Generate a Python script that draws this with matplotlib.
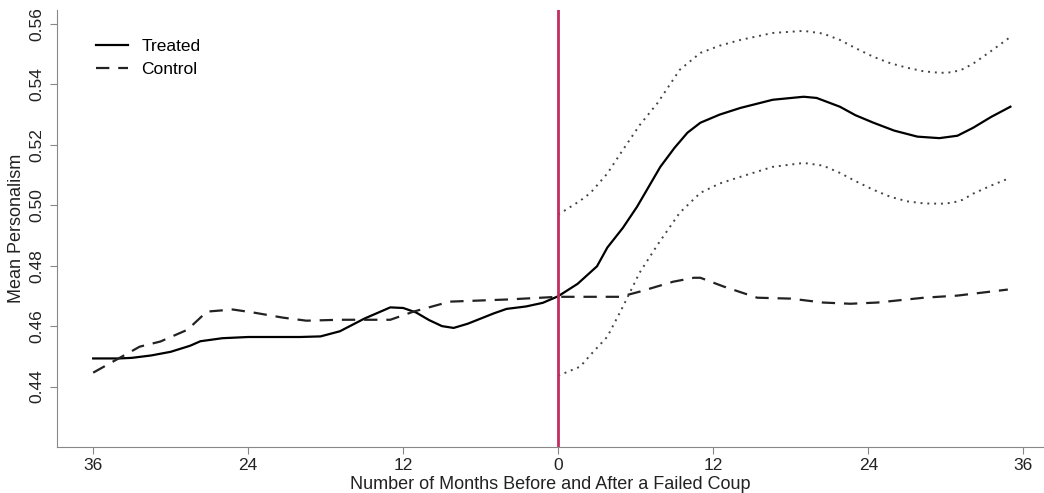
import matplotlib
matplotlib.use("Agg")
import matplotlib.pyplot as plt

plt.rcParams['font.family'] = ['Liberation Sans', 'DejaVu Sans']

# months relative to the failed coup (negative = before)
treated_x = [-36, -34, -33, -31.5, -30, -28.5, -27.7, -26, -24, -20, -18.4, -16.9, -15, -13,
             -12, -11, -10, -9, -8.1, -7, -6, -5, -4, -2.5, -1.2, 0, 1.5, 3, 3.8, 5, 6.1,
             7.9, 9, 10, 11, 12.5, 14.1, 16.6, 19, 20, 21.8, 23, 24.4, 26, 27.8, 29.5,
             30.9, 32.1, 33.5, 35]
treated_y = [0.4493, 0.4493, 0.4495, 0.4503, 0.4515, 0.4535, 0.4550, 0.4560, 0.4564, 0.4564,
             0.4566, 0.4583, 0.4625, 0.4662, 0.4660, 0.4645, 0.4620, 0.4600, 0.4594, 0.4608,
             0.4625, 0.4642, 0.4657, 0.4665, 0.4677, 0.4699, 0.4740, 0.4798, 0.4860, 0.4925,
             0.4995, 0.5127, 0.5190, 0.5240, 0.5273, 0.5300, 0.5322, 0.5349, 0.5359, 0.5355,
             0.5326, 0.5298, 0.5273, 0.5247, 0.5227, 0.5222, 0.5230, 0.5256, 0.5292, 0.5326]

control_x = [-36, -34.2, -32.4, -30.8, -28.7, -27.2, -25.2, -23.6, -21.3, -19.5, -16.9, -13,
             -11.2, -8.4, -4, 0, 4.8, 6.3, 8.9, 10.5, 11, 12.8, 15.4, 18, 20.5, 22.6, 24.7,
             28.3, 30.9, 34.8]
control_y = [0.4446, 0.4489, 0.4532, 0.4549, 0.4588, 0.4648, 0.4655, 0.4645, 0.4628, 0.4618,
             0.4621, 0.4621, 0.4648, 0.4681, 0.4688, 0.4697, 0.4697, 0.4714, 0.4747, 0.4760,
             0.4760, 0.4731, 0.4694, 0.4691, 0.4678, 0.4674, 0.4678, 0.4694, 0.4701, 0.4721]

ci_x = [0, 1.7, 2.5, 3.8, 5.0, 6.3, 7.7, 9.4, 11, 12.5, 14.1, 16.6, 19, 20.5, 21.8, 23,
        24.4, 25.7, 27, 28.3, 29.6, 30.5, 31.3, 32.1, 33.5, 35]
ci_upper = [0.4969, 0.5015, 0.5041, 0.5105, 0.5183, 0.5265, 0.5339, 0.5448, 0.5504, 0.5528,
            0.5547, 0.5570, 0.5577, 0.5568, 0.5547, 0.5520, 0.5491, 0.5470, 0.5455, 0.5443,
            0.5438, 0.5440, 0.5450, 0.5468, 0.5510, 0.5557]
ci_lower = [0.4436, 0.4466, 0.4505, 0.4565, 0.4664, 0.4777, 0.4870, 0.4975, 0.5041, 0.5072,
            0.5094, 0.5127, 0.5140, 0.5131, 0.5107, 0.5080, 0.5051, 0.5028, 0.5013, 0.5006,
            0.5005, 0.5008, 0.5018, 0.5038, 0.5065, 0.5091]

xticks = [-36, -24, -12, 0, 12, 24, 36]
yticks = [0.44, 0.46, 0.48, 0.50, 0.52, 0.54, 0.56]

fig = plt.figure(figsize=(10.44, 4.93), dpi=100)
ax = fig.add_axes([0.0546, 0.0933, 0.9454, 0.8864])

ax.plot(treated_x, treated_y, color='black', lw=1.6, label='Treated')
ax.plot(control_x, control_y, color='#222222', lw=1.6, ls=(0, (6, 4)), label='Control')
ax.plot(ci_x, ci_upper, color='#444444', lw=1.4, ls=(0, (1, 2.5)))
ax.plot(ci_x, ci_lower, color='#444444', lw=1.4, ls=(0, (1, 2.5)))
ax.axvline(0, color='#c42b5f', lw=2)

ax.set_xlim(-38.8, 37.6)
ax.set_ylim(0.42, 0.5646)
ax.set_xticks(xticks)
ax.set_xticklabels([str(abs(t)) for t in xticks])
ax.set_yticks(yticks)
ax.set_yticklabels(['%.2f' % t for t in yticks], rotation=90, va='center')

for side in ['top', 'right']:
    ax.spines[side].set_visible(False)
for side in ['left', 'bottom']:
    ax.spines[side].set_color('#888888')
ax.tick_params(colors='#888888', labelcolor='#222222', labelsize=12.5, length=5)
ax.tick_params(axis='x', pad=3)
ax.tick_params(axis='y', pad=4)

ax.set_xlabel('Number of Months Before and After a Failed Coup', fontsize=13, color='#222222', labelpad=2)
ax.set_ylabel('Mean Personalism', fontsize=13, color='#222222', labelpad=3)

ax.legend(loc='upper left', bbox_to_anchor=(0.024, 0.97), frameon=False, fontsize=12.5,
          handlelength=1.8, labelspacing=0.45)

fig.savefig('out.png', dpi=100)
